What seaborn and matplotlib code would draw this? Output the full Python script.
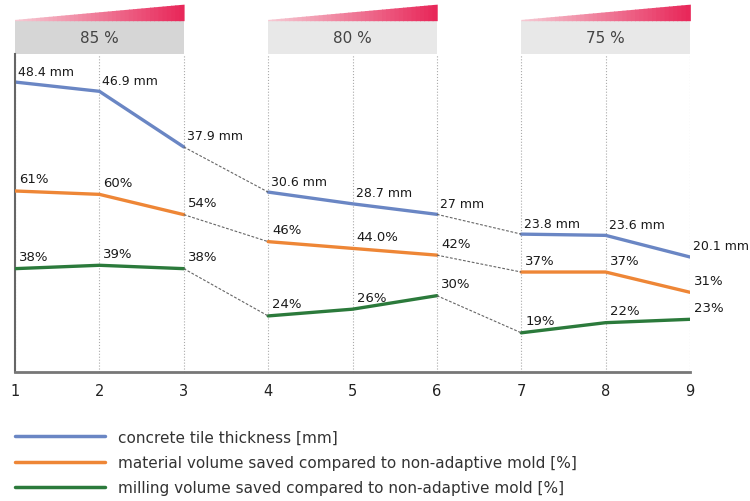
import pandas as pd
import matplotlib.pyplot as plt
import matplotlib.transforms as mtransforms
from matplotlib.patches import Rectangle, Polygon
from matplotlib.lines import Line2D
from matplotlib.colors import LinearSegmentedColormap
import seaborn as sns

# Data
steps = [1, 2, 3, 4, 5, 6, 7, 8, 9]
block_names = ['85 %', '80 %', '75 %']
step_block = ['85 %', '85 %', '85 %', '80 %', '80 %', '80 %', '75 %', '75 %', '75 %']
thickness_mm = [48.4, 46.9, 37.9, 30.6, 28.7, 27, 23.8, 23.6, 20.1]
material_saved = [61, 60, 54, 46, 44.0, 42, 37, 37, 31]
milling_saved = [38, 39, 38, 24, 26, 30, 19, 22, 23]
series_names = ['concrete tile thickness [mm]',
                'material volume saved compared to non-adaptive mold [%]',
                'milling volume saved compared to non-adaptive mold [%]']

blue, orange, green = '#6a86c4', '#ee8636', '#2b7a3b'

df_mm = pd.DataFrame({'step': steps, 'value': thickness_mm, 'block': step_block})
df_pct = pd.concat([
    pd.DataFrame({'step': steps, 'value': material_saved, 'block': step_block, 'series': series_names[1]}),
    pd.DataFrame({'step': steps, 'value': milling_saved, 'block': step_block, 'series': series_names[2]}),
])

sns.set_style('white')
plt.rcParams['font.family'] = ['DejaVu Sans']

fig = plt.figure(figsize=(7.5, 5.02), dpi=100)
ax = fig.add_axes([0.02, 0.257, 0.9, 0.633])
ax2 = ax.twinx()

# solid lines within each block
sns.lineplot(data=df_mm, x='step', y='value', units='block', estimator=None,
             color=blue, lw=2.4, ax=ax, legend=False)
sns.lineplot(data=df_pct, x='step', y='value', hue='series', units='block', estimator=None,
             palette=[orange, green], lw=2.4, ax=ax2, legend=False)

# dashed connectors between blocks
for i in (2, 5):
    ax.plot(steps[i:i + 2], thickness_mm[i:i + 2], ls=(0, (2.5, 1.5)), color='#666', lw=0.8)
    ax2.plot(steps[i:i + 2], material_saved[i:i + 2], ls=(0, (2.5, 1.5)), color='#666', lw=0.8)
    ax2.plot(steps[i:i + 2], milling_saved[i:i + 2], ls=(0, (2.5, 1.5)), color='#666', lw=0.8)

# value labels
for x, v in zip(steps, thickness_mm):
    ax.annotate(f'{v} mm', (x, v), xytext=(3, 11), textcoords='offset pixels',
                fontsize=9, color='#1a1a1a', va='center', ha='left', annotation_clip=False)
for vals in (material_saved, milling_saved):
    for x, v in zip(steps, vals):
        ax2.annotate(f'{v}%', (x, v), xytext=(4, 12), textcoords='offset pixels',
                     fontsize=9.5, color='#1a1a1a', va='center', ha='left', annotation_clip=False)

# header boxes with pink wedges
trans = mtransforms.blended_transform_factory(ax.transData, ax.transAxes)
cmap = LinearSegmentedColormap.from_list('wedge', ['#f6c9d3', '#e8285a'])
box_colors = ['#d6d6d6', '#e8e8e8', '#e8e8e8']
n = 40
for b, name in enumerate(block_names):
    x0 = steps[3 * b]
    x1 = steps[3 * b + 2]
    ax.add_patch(Rectangle((x0, 1.0), x1 - x0, 0.104, transform=trans,
                           facecolor=box_colors[b], edgecolor='none', clip_on=False))
    ax.text((x0 + x1) / 2, 1.052, name, transform=trans, ha='center', va='center',
            fontsize=11, color='#444')
    for k in range(n):
        a = x0 + (x1 - x0) * k / n
        c = x0 + (x1 - x0) * (k + 1) / n
        ta = 1.108 + 0.048 * k / n
        tc = 1.108 + 0.048 * (k + 1) / n
        ax.add_patch(Polygon([(a, 1.104), (c + 0.01, 1.104), (c + 0.01, tc), (a, ta)],
                             closed=True, transform=trans, facecolor=cmap(k / (n - 1)),
                             edgecolor='none', clip_on=False))

ax.set_xlim(1, 9)
ax.set_ylim(1.5, 52.9)
ax2.set_ylim(7.4, 101.5)
ax.set_xticks(steps)
ax.set_yticks([])
ax2.set_yticks([])
ax.set_xlabel('')
ax.set_ylabel('')
ax2.set_ylabel('')
ax.tick_params(axis='x', length=0, pad=8, labelsize=10.5, colors='#222')

ax.grid(axis='x', ls=':', color='#aaa', lw=0.8)
ax.set_axisbelow(True)
for s in ('top', 'right'):
    ax.spines[s].set_visible(False)
for s in ax2.spines:
    ax2.spines[s].set_visible(False)
ax.spines['left'].set_color('#666')
ax.spines['left'].set_linewidth(1.5)
ax.spines['bottom'].set_color('#777')
ax.spines['bottom'].set_linewidth(2)

handles = [Line2D([], [], color=c, lw=2.5) for c in (blue, orange, green)]
leg = fig.legend(handles, series_names, loc='upper left', bbox_to_anchor=(0.02, 0.142),
                 frameon=False, handlelength=5.9, handletextpad=0.85, labelspacing=0.68,
                 fontsize=11, borderpad=0, borderaxespad=0)
for t in leg.get_texts():
    t.set_color('#333')

fig.savefig('out.png', dpi=100)
